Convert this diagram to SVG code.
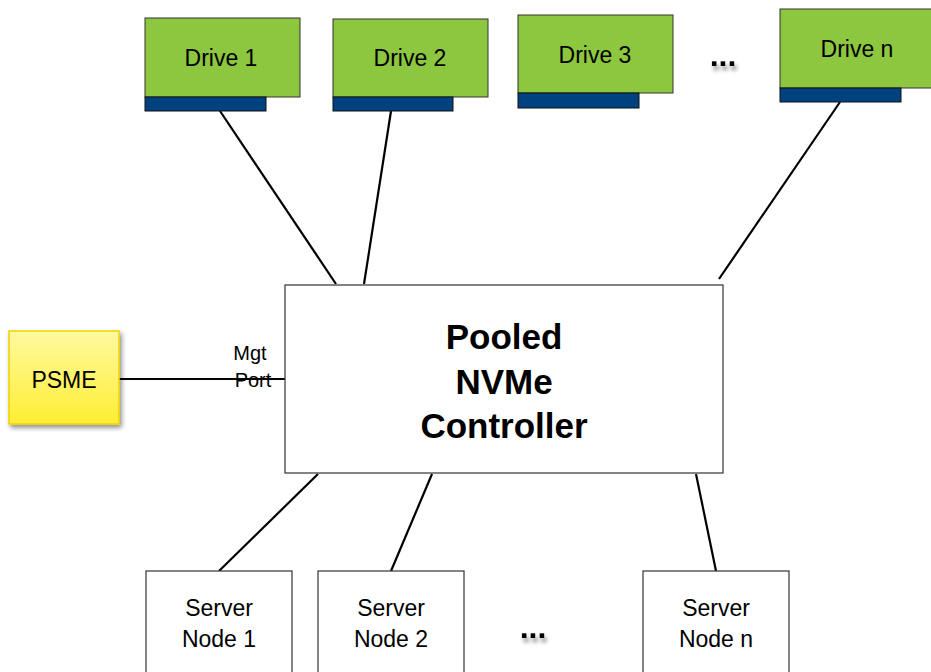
<svg xmlns="http://www.w3.org/2000/svg" width="931" height="672" viewBox="0 0 931 672">
<defs>
<linearGradient id="yg" x1="0" y1="0" x2="0" y2="1">
<stop offset="0" stop-color="#FFF9A0"/>
<stop offset="1" stop-color="#FFEE33"/>
</linearGradient>
<filter id="sh" x="-20%" y="-20%" width="150%" height="150%">
<feGaussianBlur in="SourceAlpha" stdDeviation="2.5"/>
<feOffset dx="2" dy="3" result="b"/>
<feComponentTransfer><feFuncA type="linear" slope="0.45"/></feComponentTransfer>
<feMerge><feMergeNode/><feMergeNode in="SourceGraphic"/></feMerge>
</filter>
<filter id="dsh" x="-50%" y="-100%" width="200%" height="400%">
<feGaussianBlur in="SourceAlpha" stdDeviation="2"/>
<feOffset dx="2" dy="4"/>
<feComponentTransfer><feFuncA type="linear" slope="0.5"/></feComponentTransfer>
<feMerge><feMergeNode/><feMergeNode in="SourceGraphic"/></feMerge>
</filter>
</defs>
<style>
.drv{fill:#8DC63F;stroke:#333;stroke-width:1}
.bar{fill:#00427F;stroke:#111;stroke-width:1}
.box{fill:#fff;stroke:#333;stroke-width:1.2}
.t{font-family:"Liberation Sans",Arial,sans-serif;fill:#000;text-anchor:middle}
.lab{font-size:23px}
.big{font-size:35px;font-weight:bold}
.sm{font-size:20px}
.dots{font-size:32px;font-weight:bold}
.c line{stroke:#000;stroke-width:2.2}
</style>
<g class="c" id="connectors">
<line x1="220" y1="111" x2="336" y2="284"/>
<line x1="391" y1="111" x2="364" y2="284"/>
<line x1="840" y1="102" x2="719" y2="279"/>
<line x1="119" y1="379" x2="286" y2="379"/>
<line x1="318" y1="474" x2="219" y2="571"/>
<line x1="432" y1="474" x2="391" y2="571"/>
<line x1="696" y1="474" x2="716" y2="571"/>
</g>
<g id="drive1">
<rect class="drv" x="145" y="18" width="155" height="79"/>
<rect class="bar" x="145" y="97" width="121" height="14"/>
<text class="t lab" x="221" y="66">Drive 1</text>
</g>
<g id="drive2">
<rect class="drv" x="333" y="19" width="155" height="78"/>
<rect class="bar" x="333" y="97" width="120" height="14"/>
<text class="t lab" x="410" y="66">Drive 2</text>
</g>
<g id="drive3">
<rect class="drv" x="518" y="15" width="155" height="78"/>
<rect class="bar" x="518" y="93" width="121" height="15"/>
<text class="t lab" x="595" y="63">Drive 3</text>
</g>
<g id="dots-top" filter="url(#dsh)">
<text class="t dots" x="723" y="66">...</text>
</g>
<g id="driven">
<rect class="drv" x="780" y="9" width="155" height="79"/>
<rect class="bar" x="780" y="88" width="121" height="14"/>
<text class="t lab" x="857" y="57">Drive n</text>
</g>
<g id="controller">
<rect class="box" x="285" y="285" width="438" height="188"/>
<text class="t big" x="504" y="349">Pooled</text>
<text class="t big" x="504" y="394">NVMe</text>
<text class="t big" x="504" y="438">Controller</text>
</g>
<g id="psme">
<rect x="9" y="331" width="110" height="93" fill="url(#yg)" stroke="#F2D200" stroke-width="1.5" filter="url(#sh)"/>
<text class="t lab" x="64" y="388">PSME</text>
</g>
<g id="mgt-label">
<text class="t sm" x="250" y="360">Mgt</text>
<text class="t sm" x="253" y="387">Port</text>
</g>
<g id="server1">
<rect class="box" x="146" y="571" width="146" height="110"/>
<text class="t lab" x="219" y="616">Server</text>
<text class="t lab" x="219" y="647">Node 1</text>
</g>
<g id="server2">
<rect class="box" x="318" y="571" width="146" height="110"/>
<text class="t lab" x="391" y="616">Server</text>
<text class="t lab" x="391" y="647">Node 2</text>
</g>
<g id="dots-bottom" filter="url(#dsh)">
<text class="t dots" x="533" y="638">...</text>
</g>
<g id="servern">
<rect class="box" x="643" y="571" width="146" height="110"/>
<text class="t lab" x="716" y="616">Server</text>
<text class="t lab" x="716" y="647">Node n</text>
</g>
</svg>
